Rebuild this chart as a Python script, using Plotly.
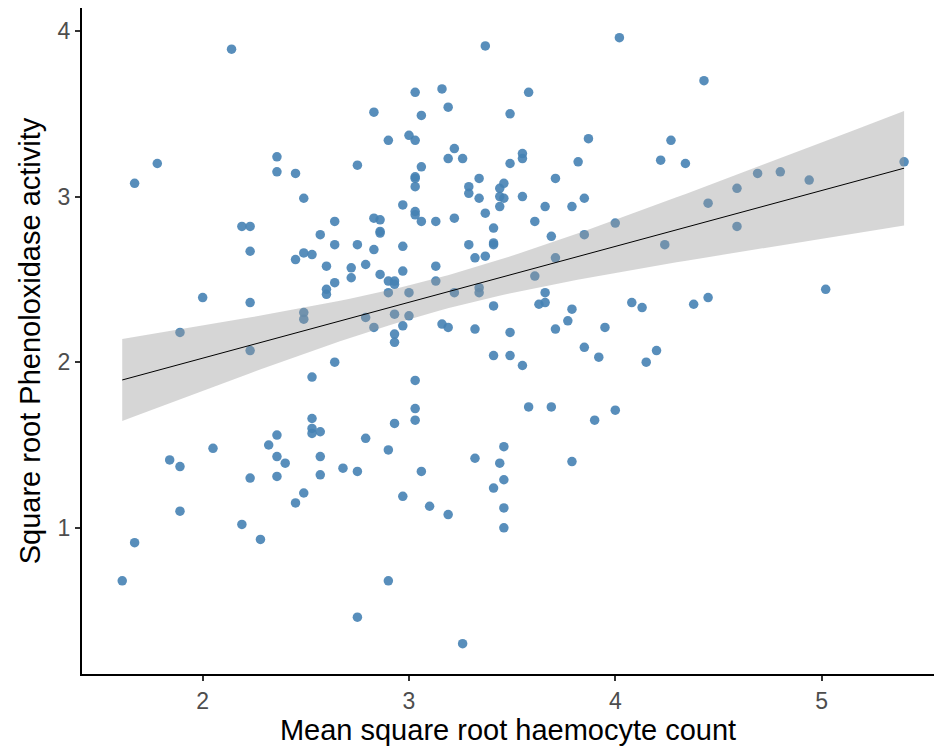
import numpy as np
import plotly.graph_objects as go

# Mean square root haemocyte count
haemocyte = [
    1.61, 1.67, 1.67, 1.78, 2.14, 1.89, 2.00, 1.84, 1.89, 1.89,
    2.05, 2.19, 2.28, 2.19, 2.23, 2.23, 2.23, 2.23, 2.23, 2.32,
    2.36, 2.36, 2.36, 2.36, 2.36, 2.40, 2.45, 2.45, 2.45, 2.49,
    2.49, 2.49, 2.49, 2.49, 2.53, 2.53, 2.53, 2.53, 2.53, 2.57,
    2.57, 2.57, 2.57, 2.60, 2.60, 2.60, 2.64, 2.64, 2.64, 2.64,
    2.68, 2.72, 2.72, 2.75, 2.75, 2.75, 2.75, 2.79, 2.79, 2.79,
    2.83, 2.83, 2.83, 2.83, 2.86, 2.86, 2.86, 2.86, 2.90, 2.90,
    2.90, 2.90, 2.90, 2.93, 2.93, 2.93, 2.93, 2.93, 2.93, 2.97,
    2.97, 2.97, 2.97, 2.97, 3.00, 3.00, 3.00, 3.03, 3.03, 3.03,
    3.03, 3.03, 3.03, 3.03, 3.03, 3.03, 3.03, 3.06, 3.06, 3.06,
    3.06, 3.10, 3.13, 3.13, 3.13, 3.16, 3.16, 3.19, 3.19, 3.19,
    3.19, 3.22, 3.22, 3.22, 3.26, 3.26, 3.29, 3.29, 3.29, 3.32,
    3.32, 3.32, 3.34, 3.34, 3.34, 3.34, 3.37, 3.37, 3.37, 3.41,
    3.41, 3.41, 3.41, 3.41, 3.41, 3.44, 3.44, 3.44, 3.44, 3.46,
    3.46, 3.46, 3.46, 3.46, 3.46, 3.49, 3.49, 3.49, 3.49, 3.55,
    3.55, 3.55, 3.55, 3.58, 3.58, 3.61, 3.61, 3.63, 3.66, 3.66,
    3.66, 3.69, 3.69, 3.71, 3.71, 3.71, 3.77, 3.79, 3.79, 3.79,
    3.82, 3.85, 3.85, 3.85, 3.87, 3.90, 3.92, 3.95, 4.00, 4.00,
    4.02, 4.08, 4.13, 4.15, 4.20, 4.22, 4.24, 4.27, 4.34, 4.38,
    4.43, 4.45, 4.45, 4.59, 4.59, 4.69, 4.80, 4.94, 5.02, 5.40,
]

# Square root Phenoloxidase activity
phenoloxidase = [
    0.68, 0.91, 3.08, 3.20, 3.89, 2.18, 2.39, 1.41, 1.37, 1.10,
    1.48, 1.02, 0.93, 2.82, 2.82, 2.67, 2.36, 2.07, 1.30, 1.50,
    3.24, 3.15, 1.56, 1.43, 1.31, 1.39, 3.14, 2.62, 1.15, 2.99,
    2.66, 2.30, 2.26, 1.21, 2.65, 1.91, 1.66, 1.60, 1.57, 1.58,
    1.43, 1.32, 2.77, 2.58, 2.44, 2.41, 2.85, 2.71, 2.48, 2.00,
    1.36, 2.57, 2.51, 3.19, 2.71, 1.34, 0.46, 2.59, 2.27, 1.54,
    3.51, 2.87, 2.68, 2.21, 2.86, 2.79, 2.78, 2.53, 3.34, 2.49,
    2.42, 1.47, 0.68, 2.49, 2.47, 2.29, 2.17, 2.12, 1.63, 2.95,
    2.70, 2.55, 2.22, 1.19, 3.37, 2.42, 2.28, 3.63, 3.34, 3.12,
    3.11, 3.06, 2.91, 2.89, 1.89, 1.72, 1.65, 3.49, 3.18, 2.85,
    1.34, 1.13, 2.85, 2.58, 2.49, 3.65, 2.23, 3.54, 3.23, 2.21,
    1.08, 3.29, 2.87, 2.42, 3.23, 0.30, 3.06, 3.02, 2.71, 2.63,
    2.20, 1.42, 3.11, 2.99, 2.45, 2.42, 3.91, 2.90, 2.64, 2.81,
    2.71, 2.72, 2.34, 2.04, 1.24, 3.05, 3.00, 2.94, 1.39, 3.08,
    2.99, 1.49, 1.29, 1.12, 1.00, 3.50, 3.20, 2.18, 2.04, 3.26,
    3.23, 3.00, 1.98, 3.63, 1.73, 2.85, 2.52, 2.35, 2.36, 2.42,
    2.94, 2.76, 1.73, 3.11, 2.63, 2.20, 2.25, 2.32, 2.94, 1.40,
    3.21, 2.99, 2.77, 2.09, 3.35, 1.65, 2.03, 2.21, 2.84, 1.71,
    3.96, 2.36, 2.33, 2.00, 2.07, 3.22, 2.71, 3.34, 3.20, 2.35,
    3.70, 2.96, 2.39, 3.05, 2.82, 3.14, 3.15, 3.10, 2.44, 3.21,
]

x_ticks = [2, 3, 4, 5]
y_ticks = [1, 2, 3, 4]
x_title = "Mean square root haemocyte count"
y_title = "Square root Phenoloxidase activity"

# Linear model fit with 95% confidence band (like geom_smooth(method = "lm"))
xa = np.array(haemocyte)
ya = np.array(phenoloxidase)
n = len(xa)
slope, intercept = np.polyfit(xa, ya, 1)
resid = ya - (intercept + slope * xa)
s = np.sqrt(np.sum(resid ** 2) / (n - 2))
sxx = np.sum((xa - xa.mean()) ** 2)
t_crit = 1.972
xf = np.linspace(xa.min(), xa.max(), 80)
yf = intercept + slope * xf
se = s * np.sqrt(1.0 / n + (xf - xa.mean()) ** 2 / sxx)
upper = yf + t_crit * se
lower = yf - t_crit * se

fig = go.Figure()
fig.add_trace(go.Scatter(
    x=haemocyte, y=phenoloxidase, mode="markers",
    marker=dict(size=9.5, color="rgba(70,130,180,0.9)", line=dict(width=0)),
    showlegend=False, hoverinfo="x+y",
))
fig.add_trace(go.Scatter(
    x=np.concatenate([xf, xf[::-1]]), y=np.concatenate([upper, lower[::-1]]),
    mode="lines", fill="toself", fillcolor="rgba(153,153,153,0.4)",
    line=dict(width=0), showlegend=False, hoverinfo="skip",
))
fig.add_trace(go.Scatter(
    x=xf, y=yf, mode="lines", line=dict(color="black", width=1),
    showlegend=False, hoverinfo="skip",
))

font_family = "Liberation Sans, Arial, sans-serif"
fig.update_layout(
    width=934, height=747,
    margin=dict(l=82, r=0, t=8, b=73),
    paper_bgcolor="white", plot_bgcolor="white",
    font=dict(family=font_family, color="black"),
    xaxis=dict(
        range=[1.415, 5.545], tickvals=x_ticks, ticktext=[str(v) for v in x_ticks],
        showgrid=False, zeroline=False, showline=True, linecolor="black", linewidth=2,
        ticks="outside", ticklen=5, tickwidth=1.5, tickcolor="#333333",
        tickfont=dict(size=23, color="#4D4D4D", family=font_family),
        title=dict(text=x_title, font=dict(size=29, color="black", family=font_family), standoff=4),
    ),
    yaxis=dict(
        range=[0.117, 4.139], tickvals=y_ticks, ticktext=[str(v) for v in y_ticks],
        showgrid=False, zeroline=False, showline=True, linecolor="black", linewidth=2,
        ticks="outside", ticklen=5, tickwidth=1.5, tickcolor="#333333",
        tickfont=dict(size=23, color="#4D4D4D", family=font_family),
        title=dict(text=y_title, font=dict(size=29, color="black", family=font_family), standoff=8),
    ),
)

fig.write_html("out.html")
